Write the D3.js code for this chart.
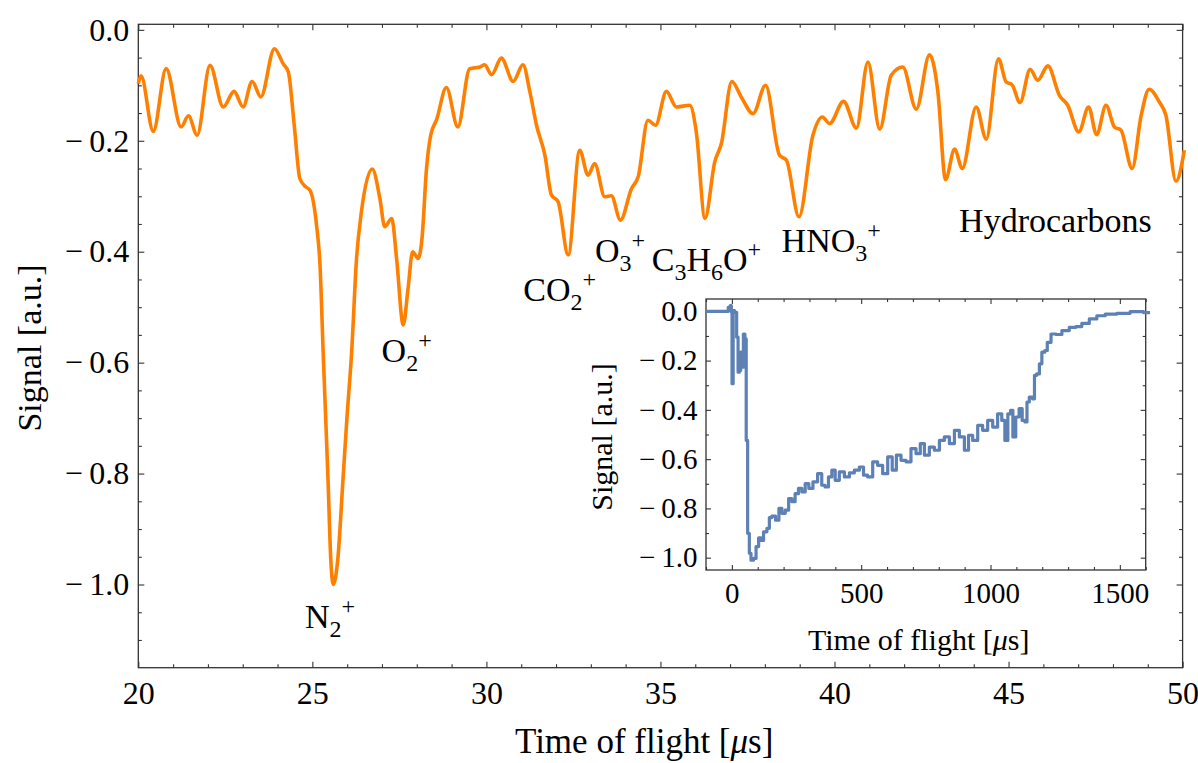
<!DOCTYPE html>
<html>
<head>
<meta charset="utf-8">
<script src="https://cdn.jsdelivr.net/npm/d3@7"></script>
<style>
  body { margin: 0; background: #fff; }
  text { font-family: "Liberation Serif", "DejaVu Serif", serif; fill: #000; }
</style>
</head>
<body>
<svg id="chart" width="1198" height="763"></svg>
<script>
// main trace, 20-50 us window
const tofMain = [20.00, 20.08, 20.43, 20.80, 21.23, 21.44, 21.69, 22.06, 22.44, 22.75, 23.01, 23.27, 23.52, 23.91, 24.16, 24.31,
  24.48, 24.64, 24.81, 24.93, 25.12, 25.22, 25.31, 25.45, 25.53, 25.60, 25.73, 25.88, 25.99, 26.13, 26.27, 26.41, 26.72,
  26.94, 27.08, 27.28, 27.42, 27.61, 27.75, 27.88, 28.04, 28.15, 28.28, 28.40, 28.57, 28.85, 29.18, 29.52, 29.81, 29.95,
  30.15, 30.43, 30.77, 31.05, 31.25, 31.44, 31.68, 31.87, 32.06, 32.35, 32.68, 32.92, 33.11, 33.40, 33.59, 33.85, 34.17,
  34.36, 34.64, 34.86, 35.17, 35.46, 35.84, 36.03, 36.28, 36.56, 36.75, 37.05, 37.32, 37.66, 38.02, 38.42, 38.62, 38.98,
  39.38, 39.65, 39.86, 40.26, 40.63, 40.96, 41.30, 41.63, 41.96, 42.35, 42.73, 42.97, 43.19, 43.45, 43.67, 44.07, 44.36,
  44.71, 44.93, 45.10, 45.33, 45.62, 45.84, 46.13, 46.46, 46.70, 47.02, 47.30, 47.53, 47.80, 48.04, 48.23, 48.55, 48.81,
  49.04, 49.33, 49.52, 49.81, 50.05];
const sigMain = [-0.097, -0.083, -0.183, -0.070, -0.175, -0.155, -0.190, -0.064, -0.139, -0.111, -0.139, -0.093, -0.121, -0.034, -0.061, -0.076,
  -0.172, -0.268, -0.283, -0.289, -0.352, -0.424, -0.580, -0.810, -0.955, -1.000, -0.955, -0.811, -0.703, -0.580, -0.412, -0.328, -0.251,
  -0.304, -0.355, -0.340, -0.412, -0.532, -0.466, -0.400, -0.412, -0.376, -0.250, -0.190, -0.162, -0.104, -0.175, -0.070, -0.067, -0.063,
  -0.081, -0.051, -0.093, -0.063, -0.112, -0.172, -0.226, -0.298, -0.310, -0.406, -0.217, -0.262, -0.241, -0.301, -0.299, -0.343, -0.286,
  -0.265, -0.163, -0.172, -0.111, -0.139, -0.136, -0.184, -0.340, -0.238, -0.205, -0.093, -0.121, -0.151, -0.100, -0.226, -0.235, -0.337,
  -0.190, -0.157, -0.169, -0.129, -0.177, -0.058, -0.179, -0.082, -0.067, -0.143, -0.045, -0.112, -0.270, -0.215, -0.250, -0.139, -0.197,
  -0.052, -0.094, -0.099, -0.131, -0.071, -0.091, -0.065, -0.118, -0.136, -0.184, -0.139, -0.189, -0.136, -0.175, -0.181, -0.250, -0.154,
  -0.107, -0.130, -0.154, -0.273, -0.217];

const tofInset = [-100, -19, -9, -4, 0, 1.3, 4, 6, 15, 22, 26, 32, 36, 41, 48, 53, 58, 64, 71, 77, 90, 97, 110, 116, 129, 142,
  148, 161, 177, 187, 200, 213, 226, 238, 251, 264, 277, 290, 305, 322, 341, 354, 367, 380, 393, 406, 425, 445, 464, 483,
  503, 515, 535, 554, 573, 593, 612, 628, 644, 664, 683, 702, 722, 735, 754, 773, 793, 812, 831, 851, 870, 889, 909, 921,
  941, 960, 979, 999, 1018, 1037, 1050, 1061, 1073, 1082, 1091, 1104, 1117, 1128, 1138, 1144, 1156, 1169, 1171, 1186,
  1192, 1205, 1215, 1224, 1244, 1263, 1289, 1320, 1340, 1366, 1398, 1424, 1463, 1514, 1566, 1617];
const sigInset = [0, 0, 0.016, 0.023, -0.004, -0.294, -0.294, 0.003, -0.004, -0.105, -0.247, -0.24, -0.166, -0.227, -0.092,
  -0.112, -0.524, -0.901, -0.982, -1.01, -1.003, -0.955, -0.92, -0.93, -0.895, -0.881, -0.837, -0.831, -0.848, -0.80, -0.82,
  -0.807, -0.76, -0.773, -0.74, -0.719, -0.733, -0.699, -0.719, -0.692, -0.659, -0.706, -0.713, -0.672, -0.645, -0.686,
  -0.652, -0.672, -0.656, -0.645, -0.632, -0.665, -0.672, -0.611, -0.625, -0.659, -0.591, -0.645, -0.584, -0.605, -0.611,
  -0.557, -0.578, -0.537, -0.584, -0.551, -0.564, -0.524, -0.510, -0.537, -0.483, -0.510, -0.564, -0.503, -0.524, -0.463,
  -0.483, -0.443, -0.470, -0.416, -0.443, -0.524, -0.416, -0.402, -0.510, -0.429, -0.395, -0.443, -0.449, -0.368, -0.348,
  -0.355, -0.260, -0.254, -0.213, -0.166, -0.159, -0.126, -0.092, -0.094, -0.078, -0.065, -0.062, -0.049, -0.031, -0.018,
  -0.011, -0.008, -0.001, -0.005];

const mainXTicks = [20, 25, 30, 35, 40, 45, 50];
const mainYTicks = [0, -0.2, -0.4, -0.6, -0.8, -1.0];
const insetXTicks = [0, 500, 1000, 1500];
const insetYTicks = [0, -0.2, -0.4, -0.6, -0.8, -1.0];

const peakLabels = [
  { parts: [["N", ""], ["2", "sub"], ["+", "sup"]], x: 24.79, y: -1.078 },
  { parts: [["O", ""], ["2", "sub"], ["+", "sup"]], x: 26.99, y: -0.598 },
  { parts: [["CO", ""], ["2", "sub"], ["+", "sup"]], x: 31.06, y: -0.488 },
  { parts: [["O", ""], ["3", "sub"], ["+", "sup"]], x: 33.12, y: -0.418 },
  { parts: [["C", ""], ["3", "sub"], ["H", ""], ["6", "sub"], ["O", ""], ["+", "sup"]], x: 34.75, y: -0.434 },
  { parts: [["HNO", ""], ["3", "sub"], ["+", "sup"]], x: 38.48, y: -0.400 },
  { parts: [["Hydrocarbons", ""]], x: 43.58, y: -0.364 }
];

const svg = d3.select("#chart");

const fmtSigned = v => (v < 0 ? "\u2212\u2009" : "") + Math.abs(v).toFixed(1);

// framed panel with inward ticks on all four sides
function drawFrame(g, x, y, o) {
  const [x0, x1] = x.range(), [y0, y1] = y.range();
  const w = x1 - x0, h = y0 - y1;
  const mk = (axisFn, scale, vals, size, fmt, pad) => axisFn(scale).tickValues(vals).tickSize(-size)
      .tickSizeOuter(0).tickPadding(pad || 0).tickFormat(fmt || "");

  const bottom = g.append("g").attr("transform", `translate(0,${y0})`);
  bottom.call(mk(d3.axisBottom, x, o.xTicks, o.major, o.xFmt, o.xPad));
  bottom.append("g").call(mk(d3.axisBottom, x, o.xMinor, o.minor));
  g.append("g").attr("transform", `translate(0,${y1})`).call(mk(d3.axisTop, x, o.xTicks, o.major))
    .append("g").call(mk(d3.axisTop, x, o.xMinor, o.minor));

  const left = g.append("g").attr("transform", `translate(${x0},0)`);
  left.call(mk(d3.axisLeft, y, o.yTicks, o.major, fmtSigned, o.yPad));
  left.append("g").call(mk(d3.axisLeft, y, o.yMinor, o.minor));
  g.append("g").attr("transform", `translate(${x1},0)`).call(mk(d3.axisRight, y, o.yTicks, o.major))
    .append("g").call(mk(d3.axisRight, y, o.yMinor, o.minor));

  g.selectAll(".domain").remove();
  g.selectAll(".tick line").attr("stroke", "#333").attr("stroke-width", 1.1);
  g.selectAll(".tick text").style("font-size", o.font + "px")
    .style("font-family", '"Liberation Serif", serif').attr("fill", "#000");

  g.append("rect").attr("x", x0).attr("y", y1).attr("width", w).attr("height", h)
    .attr("fill", "none").attr("stroke", "#333").attr("stroke-width", 1.3);
}

// ---------- main panel ----------
const x = d3.scaleLinear().domain([20, 50]).range([138.3, 1182.6]);
const y = d3.scaleLinear().domain([-1.15, 0.01]).range([667.7, 24.3]);

const main = svg.append("g");
drawFrame(main, x, y, {
  xTicks: mainXTicks, xMinor: d3.range(20, 51, 1).filter(v => v % 5),
  yTicks: mainYTicks, yMinor: d3.range(-23, 1).map(k => k * 0.05).filter((v, i) => i % 4 !== 3 && v > -1.15),
  major: 6, minor: 3.5, font: 32, xPad: 14, yPad: 9, xFmt: d3.format("d")
});

main.append("path")
  .datum(d3.zip(tofMain, sigMain))
  .attr("fill", "none")
  .attr("stroke", "#ff8000")
  .attr("stroke-width", 3.6)
  .attr("stroke-linejoin", "round")
  .attr("d", d3.line().x(d => x(d[0])).y(d => y(d[1])).curve(d3.curveMonotoneX));

peakLabels.forEach(lab => {
  const t = main.append("text").attr("x", x(lab.x)).attr("y", y(lab.y)).style("font-size", "34px");
  let shift = 0;
  lab.parts.forEach(([s, kind]) => {
    const target = kind === "sub" ? 9 : kind === "sup" ? -14 : 0;
    const ts = t.append("tspan").text(s).attr("dy", target - shift);
    if (kind) ts.style("font-size", "24px");
    shift = target;
  });
});

svg.append("text").attr("x", 515).attr("y", 753).style("font-size", "35px")
  .html('Time of flight [<tspan font-style="italic">μ</tspan>s]');
svg.append("text").attr("transform", "translate(41,348) rotate(-90)")
  .attr("text-anchor", "middle").style("font-size", "34px").text("Signal [a.u.]");

// ---------- inset ----------
const xi = d3.scaleLinear().domain([-100, 1600]).range([706, 1145.7]);
const yi = d3.scaleLinear().domain([-1.05, 0.05]).range([570, 299]);

const inset = svg.append("g");
inset.append("rect").attr("x", 706).attr("y", 299).attr("width", 439.7).attr("height", 271).attr("fill", "#fff");
drawFrame(inset, xi, yi, {
  xTicks: insetXTicks, xMinor: d3.range(-100, 1601, 100).filter(v => v % 500),
  yTicks: insetYTicks, yMinor: [-0.1, -0.3, -0.5, -0.7, -0.9],
  major: 5, minor: 3, font: 29, xPad: 12, yPad: 8.5, xFmt: d3.format("d")
});

inset.append("path")
  .datum(d3.zip(tofInset, sigInset))
  .attr("fill", "none")
  .attr("stroke", "#5e81b5")
  .attr("stroke-width", 3.2)
  .attr("stroke-linejoin", "round")
  .attr("d", d3.line().x(d => xi(d[0])).y(d => yi(d[1])).curve(d3.curveStep));

inset.append("text").attr("x", 808).attr("y", 650).style("font-size", "30px")
  .html('Time of flight [<tspan font-style="italic">μ</tspan>s]');
inset.append("text").attr("transform", "translate(612,437) rotate(-90)")
  .attr("text-anchor", "middle").style("font-size", "30px").text("Signal [a.u.]");
</script>
</body>
</html>
